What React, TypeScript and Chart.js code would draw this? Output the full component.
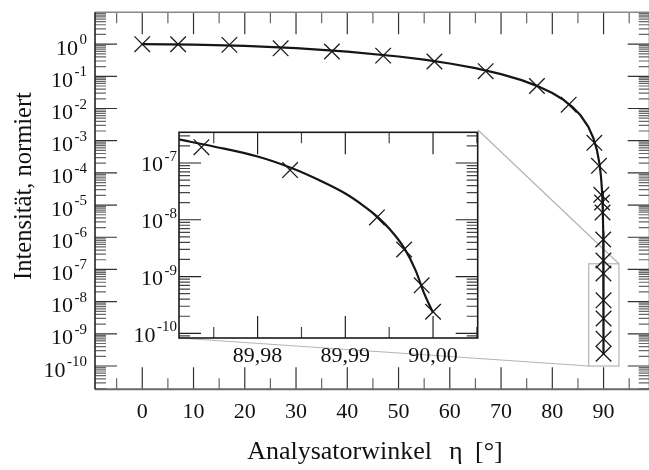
import React, { useEffect, useRef } from 'react';
import { Chart, registerables } from 'chart.js';

Chart.register(...registerables);

const FONT = '"Liberation Serif", "Times New Roman", serif';

// ---------- main chart data ----------
const markerAngles = [0, 7, 17, 27, 37, 47, 57, 67, 77, 83.2, 88.2, 89.1, 89.55, 89.7, 89.8, 89.93, 89.9736, 89.9837, 89.9936, 89.9967, 89.9987, 90.0];
const markerIntensity = [1.0, 0.99, 0.95, 0.74, 0.59, 0.44, 0.29, 0.145, 0.05, 0.0132, 8.6e-4, 1.66e-4, 2.1e-5, 1.2e-5, 5.9e-6, 8.5e-7, 1.9e-7, 7.5e-8, 1.1e-8, 3.0e-9, 7.0e-10, 2.4e-10];

const curveAngles = [0, 10, 20, 30, 40, 50, 55, 60, 65, 70, 74, 77, 80, 82, 84, 85.5, 87, 88, 88.7, 89.2, 89.5, 89.7, 89.85, 89.93, 89.97, 89.99, 89.997, 90.0];
const curveIntensity = [1.0, 0.97, 0.883, 0.75, 0.587, 0.413, 0.329, 0.25, 0.179, 0.117, 0.076, 0.0506, 0.0302, 0.0194, 0.0109, 0.00616, 0.00274, 0.00122, 5.15e-4, 1.95e-4, 7.6e-5, 2.74e-5, 6.9e-6, 1.5e-6, 2.7e-7, 3.1e-8, 3.0e-9, 2.2e-10];

const mainXTickValues = [0, 10, 20, 30, 40, 50, 60, 70, 80, 90];
const mainYExponents = [0, -1, -2, -3, -4, -5, -6, -7, -8, -9, -10];
const xAxisTitleParts = ['Analysatorwinkel', '\u03B7', '[\u00B0]'];
const yAxisTitle = 'Intensit\u00E4t, normiert';

// zoom box in main chart (value coordinates)
const zoomBoxAngles = [87.1, 93.0];
const zoomBoxIntensity = [1.0e-10, 1.5e-7];

// ---------- inset data ----------
const insetMarkerAngles = [89.9736, 89.9837, 89.9936, 89.9967, 89.9987, 90.0];
const insetMarkerIntensity = [1.9e-7, 7.5e-8, 1.1e-8, 3.0e-9, 7.0e-10, 2.4e-10];
const insetCurveAngles = [89.971, 89.975, 89.98, 89.984, 89.987, 89.99, 89.992, 89.9936, 89.995, 89.9967, 89.998, 89.999, 90.0];
const insetCurveIntensity = [2.6e-7, 1.95e-7, 1.3e-7, 8.0e-8, 5.0e-8, 2.9e-8, 1.8e-8, 1.15e-8, 7.0e-9, 3.2e-9, 1.3e-9, 5.0e-10, 2.3e-10];
const insetXTickValues = [89.98, 89.99, 90.0];
const insetXTickLabels = ['89,98', '89,99', '90,00'];
const insetYExponents = [-7, -8, -9, -10];

// ---------- layout ----------
const MAIN_W = 662;
const MAIN_H = 470;
const MAIN_PAD = { left: 95, top: 7, right: MAIN_W - 654, bottom: MAIN_H - 389.3 };
const INSET = { left: 110, top: 120, w: 380, h: 260, padL: 69, padT: 10, padR: 12, padB: 42 };

function pts(xs: number[], ys: number[]) {
  return xs.map((x, i) => ({ x, y: ys[i] }));
}

function drawPow(ctx: CanvasRenderingContext2D, xRight: number, yTick: number, exp: number, baseSize: number, supSize: number, baseDy: number, supDy: number) {
  const base = '10';
  const sup = String(exp);
  ctx.font = `${baseSize}px ${FONT}`;
  const wb = ctx.measureText(base).width;
  ctx.font = `${supSize}px ${FONT}`;
  const ws = ctx.measureText(sup).width;
  const gap = 1.5;
  const x0 = xRight - ws - wb - gap;
  ctx.textAlign = 'left';
  ctx.textBaseline = 'alphabetic';
  ctx.fillStyle = '#111';
  ctx.font = `${baseSize}px ${FONT}`;
  ctx.fillText(base, x0, yTick + baseDy);
  ctx.font = `${supSize}px ${FONT}`;
  ctx.fillText(sup, x0 + wb + gap, yTick + supDy);
}

interface TickCfg {
  xStep: number;
  xMajorEvery: number;
  majorLen: number;
  minorLen: number;
  majorColor: string;
  minorColor: string;
}

function drawTicks(chart: any, cfg: TickCfg) {
  const ctx: CanvasRenderingContext2D = chart.ctx;
  const a = chart.chartArea;
  const xs = chart.scales.x;
  const ys = chart.scales.y;
  ctx.save();
  ctx.lineWidth = 1.2;
  const kMin = Math.ceil(xs.min / cfg.xStep - 1e-6);
  const kMax = Math.floor(xs.max / cfg.xStep + 1e-6);
  for (let k = kMin; k <= kMax; k++) {
    const v = k * cfg.xStep;
    const px = xs.getPixelForValue(v);
    const major = ((k % cfg.xMajorEvery) + cfg.xMajorEvery) % cfg.xMajorEvery === 0;
    const len = major ? cfg.majorLen : cfg.minorLen;
    ctx.strokeStyle = major ? cfg.majorColor : cfg.minorColor;
    ctx.beginPath();
    ctx.moveTo(px, a.bottom);
    ctx.lineTo(px, a.bottom - len);
    ctx.moveTo(px, a.top);
    ctx.lineTo(px, a.top + len);
    ctx.stroke();
  }
  const eMin = Math.floor(Math.log10(ys.min));
  const eMax = Math.ceil(Math.log10(ys.max));
  for (let e = eMin; e <= eMax; e++) {
    for (let m = 1; m <= 9; m++) {
      const v = m * Math.pow(10, e);
      if (v < ys.min || v > ys.max) continue;
      const py = ys.getPixelForValue(v);
      const major = m === 1;
      const len = major ? cfg.majorLen : cfg.minorLen;
      ctx.strokeStyle = major ? cfg.majorColor : cfg.minorColor;
      ctx.beginPath();
      ctx.moveTo(a.left, py);
      ctx.lineTo(a.left + len, py);
      ctx.moveTo(a.right, py);
      ctx.lineTo(a.right - len, py);
      ctx.stroke();
    }
  }
  ctx.restore();
}

const mainDecor = {
  id: 'mainDecor',
  beforeDatasetsDraw(chart: any) {
    const ctx: CanvasRenderingContext2D = chart.ctx;
    const a = chart.chartArea;
    const xs = chart.scales.x;
    const ys = chart.scales.y;
    ctx.save();
    ctx.fillStyle = '#fff';
    ctx.fillRect(0, 0, chart.width, chart.height);
    ctx.restore();
    drawTicks(chart, { xStep: 5, xMajorEvery: 2, majorLen: 22, minorLen: 11, majorColor: '#333', minorColor: '#666' });
    ctx.save();
    ctx.lineWidth = 1.6;
    ctx.strokeStyle = '#888';
    ctx.beginPath();
    ctx.moveTo(a.left, a.top);
    ctx.lineTo(a.right, a.top);
    ctx.stroke();
    ctx.strokeStyle = '#6a6a6a';
    ctx.lineWidth = 2;
    ctx.beginPath();
    ctx.moveTo(a.left, a.bottom);
    ctx.lineTo(a.right, a.bottom);
    ctx.moveTo(a.right, a.top);
    ctx.lineTo(a.right, a.bottom);
    ctx.stroke();
    ctx.strokeStyle = '#222';
    ctx.lineWidth = 1.6;
    ctx.beginPath();
    ctx.moveTo(a.left, a.top);
    ctx.lineTo(a.left, a.bottom);
    ctx.stroke();

    const bx0 = xs.getPixelForValue(zoomBoxAngles[0]);
    const bx1 = xs.getPixelForValue(zoomBoxAngles[1]);
    const by0 = ys.getPixelForValue(zoomBoxIntensity[1]);
    const by1 = ys.getPixelForValue(zoomBoxIntensity[0]);
    ctx.strokeStyle = '#b4b4b4';
    ctx.lineWidth = 1.2;
    ctx.strokeRect(bx0, by0, bx1 - bx0, by1 - by0);
    const trX = INSET.left + INSET.w - INSET.padR;
    const trY = INSET.top + INSET.padT;
    const blX = INSET.left + INSET.padL;
    const blY = INSET.top + INSET.h - INSET.padB;
    ctx.beginPath();
    ctx.moveTo(trX, trY);
    ctx.lineTo(bx1, by0);
    ctx.moveTo(blX, blY);
    ctx.lineTo(bx0, by1);
    ctx.stroke();
    ctx.restore();
  },
  afterDraw(chart: any) {
    const ctx: CanvasRenderingContext2D = chart.ctx;
    const a = chart.chartArea;
    const xs = chart.scales.x;
    const ys = chart.scales.y;
    ctx.save();
    mainYExponents.forEach((e) => {
      drawPow(ctx, 87, ys.getPixelForValue(Math.pow(10, e)), e, 22, 15, 10.5, 0);
    });
    ctx.font = `22px ${FONT}`;
    ctx.fillStyle = '#111';
    ctx.textAlign = 'center';
    ctx.textBaseline = 'alphabetic';
    mainXTickValues.forEach((v) => {
      ctx.fillText(String(v), xs.getPixelForValue(v), a.bottom + 29);
    });
    // x axis title
    ctx.font = `26px ${FONT}`;
    ctx.textAlign = 'right';
    ctx.fillText(xAxisTitleParts[0], 432, 459);
    ctx.textAlign = 'left';
    ctx.fillText(xAxisTitleParts[1], 449, 459);
    ctx.fillText(xAxisTitleParts[2], 475, 459);
    // y axis title
    ctx.textAlign = 'center';
    ctx.translate(31, 186);
    ctx.rotate(-Math.PI / 2);
    ctx.font = `24.5px ${FONT}`;
    ctx.fillText(yAxisTitle, 0, 0);
    ctx.restore();
  },
};

const insetDecor = {
  id: 'insetDecor',
  beforeDatasetsDraw(chart: any) {
    const ctx: CanvasRenderingContext2D = chart.ctx;
    const a = chart.chartArea;
    ctx.save();
    ctx.fillStyle = '#fff';
    ctx.fillRect(a.left, a.top, a.right - a.left, a.bottom - a.top);
    ctx.restore();
    drawTicks(chart, { xStep: 0.005, xMajorEvery: 2, majorLen: 22, minorLen: 11, majorColor: '#222', minorColor: '#444' });
    ctx.save();
    ctx.strokeStyle = '#1a1a1a';
    ctx.lineWidth = 1.6;
    ctx.strokeRect(a.left, a.top, a.right - a.left, a.bottom - a.top);
    ctx.restore();
  },
  afterDraw(chart: any) {
    const ctx: CanvasRenderingContext2D = chart.ctx;
    const a = chart.chartArea;
    const xs = chart.scales.x;
    const ys = chart.scales.y;
    ctx.save();
    insetYExponents.forEach((e) => {
      drawPow(ctx, a.left - 2, ys.getPixelForValue(Math.pow(10, e)), e, 22, 15, 8.5, -2);
    });
    ctx.font = `22px ${FONT}`;
    ctx.fillStyle = '#111';
    ctx.textAlign = 'center';
    ctx.textBaseline = 'alphabetic';
    insetXTickValues.forEach((v, i) => {
      ctx.fillText(insetXTickLabels[i], xs.getPixelForValue(v), a.bottom + 24);
    });
    ctx.restore();
  },
};

function logScale(min: number, max: number) {
  return { type: 'logarithmic' as const, display: false, min, max, bounds: 'data' as const };
}
function linScale(min: number, max: number) {
  return { type: 'linear' as const, display: false, min, max, bounds: 'data' as const };
}

export default function App() {
  const mainRef = useRef<HTMLCanvasElement>(null);
  const insetRef = useRef<HTMLCanvasElement>(null);

  useEffect(() => {
    const mainChart = new Chart(mainRef.current as HTMLCanvasElement, {
      type: 'scatter',
      data: {
        datasets: [
          {
            data: pts(curveAngles, curveIntensity),
            showLine: true,
            borderColor: '#151515',
            borderWidth: 2.2,
            pointRadius: 0,
            fill: false,
            tension: 0,
          },
          {
            data: pts(markerAngles, markerIntensity),
            showLine: false,
            pointStyle: 'crossRot',
            pointRadius: 11,
            borderColor: '#1c1c1c',
            backgroundColor: '#1c1c1c',
            pointBorderWidth: 1.3,
          },
        ],
      },
      options: {
        responsive: false,
        animation: false,
        devicePixelRatio: 1,
        layout: { padding: MAIN_PAD },
        scales: {
          x: linScale(-9.22, 99.0),
          y: logScale(1.89e-11, 9.76),
        },
        plugins: { legend: { display: false }, tooltip: { enabled: false }, title: { display: false } },
        events: [],
      },
      plugins: [mainDecor],
    } as any);

    const insetChart = new Chart(insetRef.current as HTMLCanvasElement, {
      type: 'scatter',
      data: {
        datasets: [
          {
            data: pts(insetCurveAngles, insetCurveIntensity),
            showLine: true,
            borderColor: '#151515',
            borderWidth: 2.2,
            pointRadius: 0,
            fill: false,
            cubicInterpolationMode: 'monotone',
          },
          {
            data: pts(insetMarkerAngles, insetMarkerIntensity),
            showLine: false,
            pointStyle: 'crossRot',
            pointRadius: 11,
            borderColor: '#1c1c1c',
            backgroundColor: '#1c1c1c',
            pointBorderWidth: 1.3,
          },
        ],
      },
      options: {
        responsive: false,
        animation: false,
        devicePixelRatio: 1,
        layout: { padding: { left: INSET.padL, top: INSET.padT, right: INSET.padR, bottom: INSET.padB } },
        scales: {
          x: linScale(89.97104, 90.00509),
          y: logScale(8.28e-11, 3.47e-7),
        },
        plugins: { legend: { display: false }, tooltip: { enabled: false }, title: { display: false } },
        events: [],
      },
      plugins: [insetDecor],
    } as any);

    return () => {
      mainChart.destroy();
      insetChart.destroy();
    };
  }, []);

  return (
    <div style={{ position: 'fixed', left: 0, top: 0, width: 649, height: 470, overflow: 'hidden', background: '#fff' }}>
      <canvas ref={mainRef} width={MAIN_W} height={MAIN_H} style={{ position: 'absolute', left: 0, top: 0, width: MAIN_W, height: MAIN_H }} />
      <canvas
        ref={insetRef}
        width={INSET.w}
        height={INSET.h}
        style={{ position: 'absolute', left: INSET.left, top: INSET.top, width: INSET.w, height: INSET.h }}
      />
    </div>
  );
}
